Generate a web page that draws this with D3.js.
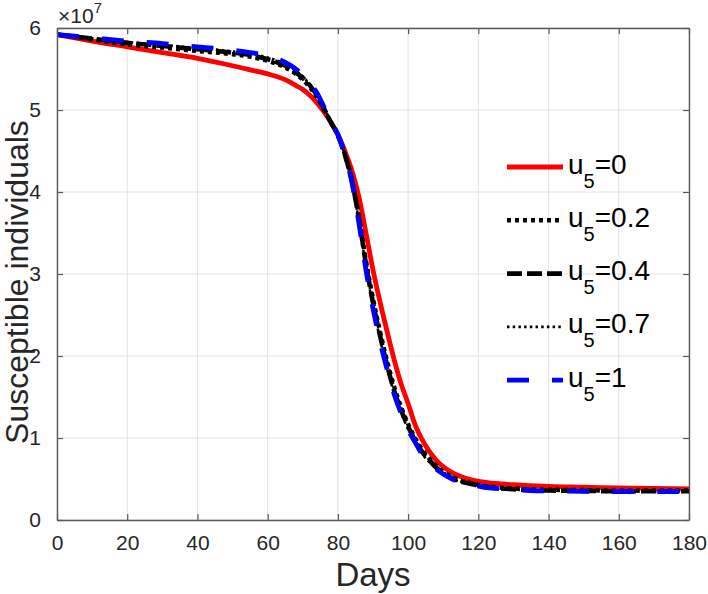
<!DOCTYPE html>
<html>
<head>
<meta charset="utf-8">
<script src="https://cdn.jsdelivr.net/npm/d3@7"></script>
<style>
  html, body { margin: 0; padding: 0; background: #ffffff; }
  svg { display: block; font-family: "Liberation Sans", Arial, sans-serif; }
</style>
</head>
<body>
<svg id="chart" width="708" height="594"></svg>
<script>
// ---- data (values in units of 1e7) ----
const days = [0,10,20,30,40,50,55,60,65,68,70,72,74,76,78,80,82,84,86,88,90,92,94,96,98,100,102,104,106,108,110,112,115,118,121,125,130,135,140,150,160,170,180];
const s_u0   = [5.92,5.84,5.77,5.70,5.63,5.54,5.49,5.44,5.37,5.30,5.25,5.18,5.09,4.98,4.85,4.70,4.50,4.26,3.94,3.50,3.05,2.66,2.30,1.96,1.66,1.42,1.16,0.98,0.84,0.73,0.65,0.59,0.53,0.49,0.465,0.445,0.43,0.42,0.41,0.40,0.39,0.385,0.38];
const s_u02  = [5.92,5.86,5.80,5.76,5.72,5.68,5.65,5.60,5.52,5.44,5.37,5.28,5.16,5.01,4.85,4.69,4.46,4.15,3.70,3.16,2.70,2.30,1.94,1.63,1.38,1.17,1.00,0.86,0.75,0.66,0.59,0.54,0.48,0.45,0.42,0.40,0.385,0.375,0.37,0.365,0.36,0.36,0.36];
const s_u04  = [5.92,5.87,5.82,5.78,5.74,5.70,5.67,5.62,5.54,5.46,5.39,5.30,5.18,5.02,4.85,4.69,4.45,4.13,3.67,3.12,2.65,2.25,1.89,1.58,1.34,1.14,0.97,0.83,0.73,0.64,0.57,0.52,0.47,0.44,0.41,0.39,0.375,0.365,0.36,0.355,0.35,0.35,0.35];
const s_u07  = [5.92,5.875,5.83,5.795,5.755,5.715,5.685,5.64,5.56,5.48,5.41,5.31,5.19,5.03,4.855,4.69,4.45,4.12,3.64,3.08,2.61,2.21,1.86,1.55,1.31,1.11,0.96,0.81,0.71,0.63,0.565,0.515,0.465,0.435,0.41,0.39,0.372,0.362,0.357,0.352,0.348,0.347,0.347];
const s_u1   = [5.92,5.88,5.84,5.81,5.77,5.73,5.70,5.66,5.58,5.50,5.43,5.33,5.21,5.04,4.86,4.70,4.45,4.12,3.62,3.05,2.58,2.18,1.84,1.54,1.30,1.10,0.95,0.80,0.70,0.62,0.56,0.51,0.46,0.43,0.405,0.385,0.37,0.36,0.355,0.35,0.345,0.345,0.345];
const seriesLabels = ["0","0.2","0.4","0.7","1"];
const xTicks = [0,20,40,60,80,100,120,140,160,180];
const yTicks = [0,1,2,3,4,5,6];

// ---- styles ----
const styles = [
  {color:"#ff0000", width:4.8, dash:null},
  {color:"#000000", width:4.4, dash:"4 4"},
  {color:"#000000", width:4.6, dash:"15 5"},
  {color:"#000000", width:2.6, dash:"2.5 3.2"},
  {color:"#0000ff", width:4.8, dash:"22 23"}
];
const allSeries = [s_u0, s_u02, s_u04, s_u07, s_u1];

const svg = d3.select("#chart");
const L = 57, R = 689, T = 28, B = 520;
const x = d3.scaleLinear().domain([0,180]).range([L,R]);
const y = d3.scaleLinear().domain([0,6]).range([B,T]);
const axisColor = "#5a5a5a";

svg.append("rect").attr("x",0).attr("y",0).attr("width",708).attr("height",594).attr("fill","#fff");

// grid
const grid = svg.append("g");
grid.selectAll("line.gx").data(xTicks).join("line")
  .attr("x1",d=>x(d)).attr("x2",d=>x(d)).attr("y1",T).attr("y2",B)
  .attr("stroke","#e3e3e3").attr("stroke-width",1);
grid.selectAll("line.gy").data(yTicks).join("line")
  .attr("y1",d=>y(d)).attr("y2",d=>y(d)).attr("x1",L).attr("x2",R)
  .attr("stroke","#e3e3e3").attr("stroke-width",1);

// curves
svg.append("clipPath").attr("id","clip").append("rect")
  .attr("x",L).attr("y",T).attr("width",R-L).attr("height",B-T);
const line = d3.line().x((d,i)=>x(days[i])).y(d=>y(d)).curve(d3.curveMonotoneX);
const curves = svg.append("g").attr("clip-path","url(#clip)");
allSeries.forEach((s,k)=>{
  curves.append("path").datum(s).attr("d",line)
    .attr("fill","none").attr("stroke",styles[k].color)
    .attr("stroke-width",styles[k].width)
    .attr("stroke-dasharray",styles[k].dash)
    .attr("stroke-linejoin","round");
});

// axes (ticks inside, box)
const tickLen = 6;
const bottomAxis = d3.axisBottom(x).tickValues(xTicks).tickSizeInner(-tickLen).tickSizeOuter(0).tickPadding(15);
const leftAxis = d3.axisLeft(y).tickValues(yTicks).tickFormat(d3.format("d")).tickSizeInner(-tickLen).tickSizeOuter(0).tickPadding(16);
const topAxis = d3.axisTop(x).tickValues(xTicks).tickSizeInner(-tickLen).tickSizeOuter(0).tickFormat("");
const rightAxis = d3.axisRight(y).tickValues(yTicks).tickSizeInner(-tickLen).tickSizeOuter(0).tickFormat("");

function styleAxis(g){
  g.select(".domain").attr("stroke",axisColor).attr("stroke-width",1.4);
  g.selectAll(".tick line").attr("stroke",axisColor).attr("stroke-width",1.2);
  g.selectAll(".tick text").attr("fill","#262626").attr("font-size","21px")
    .attr("font-family","'Liberation Sans', Arial, sans-serif");
}
svg.append("g").attr("transform",`translate(0,${B})`).call(bottomAxis).call(styleAxis);
svg.append("g").attr("transform",`translate(${L},0)`).call(leftAxis).call(styleAxis);
svg.append("g").attr("transform",`translate(0,${T})`).call(topAxis).call(styleAxis);
svg.append("g").attr("transform",`translate(${R},0)`).call(rightAxis).call(styleAxis);

// exponent label
const ex = svg.append("text").attr("x",L+1).attr("y",23).attr("fill","#262626")
  .style("font-size","21px");
ex.append("tspan").text("×10");
ex.append("tspan").style("font-size","15px").attr("dy",-10).text("7");

// axis labels
svg.append("text").attr("x",(L+R)/2).attr("y",586).attr("text-anchor","middle")
  .attr("fill","#262626").style("font-size","33px").text("Days");
svg.append("text").attr("transform",`translate(28,${(T+B)/2 + 8}) rotate(-90)`)
  .attr("text-anchor","middle").attr("fill","#262626").style("font-size","32px")
  .text("Susceptible individuals");

// legend
const legY0 = 167, legDY = 53.3, legX1 = 507, legX2 = 563;
seriesLabels.forEach((lab,k)=>{
  const ly = legY0 + k*legDY;
  svg.append("line").attr("x1",legX1).attr("x2",legX2).attr("y1",ly).attr("y2",ly)
    .attr("stroke",styles[k].color).attr("stroke-width",styles[k].width)
    .attr("stroke-dasharray",styles[k].dash);
  const t = svg.append("text").attr("x",legX2+5).attr("y",ly+6.5)
    .attr("fill","#000").style("font-size","28px");
  t.append("tspan").text("u");
  t.append("tspan").style("font-size","20px").attr("dy",14).text("5");
  t.append("tspan").attr("dy",-14).text("=" + lab);
});
</script>
</body>
</html>
